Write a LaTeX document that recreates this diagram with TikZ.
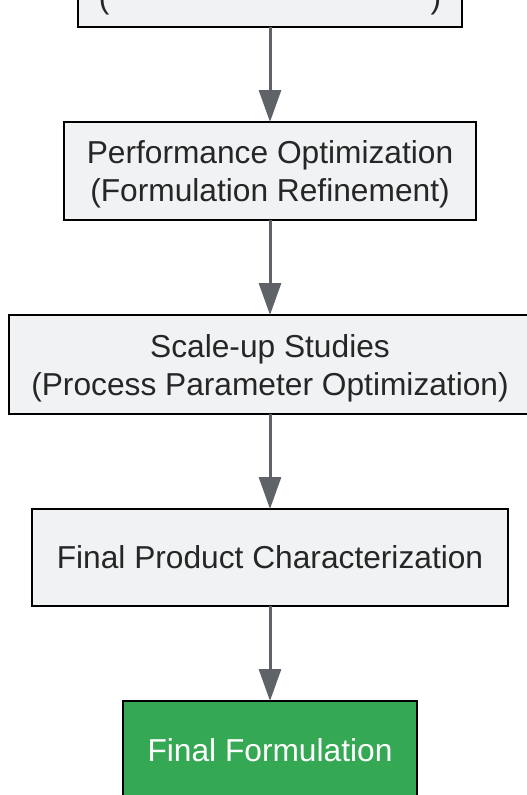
\documentclass[tikz,border=0pt]{standalone}
\usepackage{fontspec}
\setmainfont{Liberation Sans}
\usetikzlibrary{arrows.meta}
\definecolor{boxfill}{HTML}{F1F2F4}
\definecolor{txt}{HTML}{262626}
\definecolor{arrowgray}{HTML}{5F6368}
\definecolor{finalgreen}{HTML}{34A853}
\begin{document}
\begin{tikzpicture}[x=1pt,y=-1pt,
  boxtext/.style={text=txt, align=center, inner sep=0pt, outer sep=0pt,
    font=\fontsize{31.7}{38}\selectfont},
  stepbox/.style={boxtext, draw=black, line width=2.5pt, fill=boxfill},
  twoline/.style={boxtext, yshift=-3.5pt},
  finalbox/.style={stepbox, fill=finalgreen, text=white},
  flow/.style={draw=arrowgray, line width=3pt,
    -{Triangle[width=22pt,length=32pt]}, shorten >=0pt}
]
\useasboundingbox (0,0) rectangle (527,795);
\clip (0,0) rectangle (527,795);
\node[stepbox, minimum width=384pt, minimum height=98pt,
  label={[twoline, name=b1t]center:{\phantom{X}\\(\hspace{321pt})}}] (b1) at (270,-22) {};
\node[stepbox, minimum width=412pt, minimum height=98pt,
  label={[twoline, name=b2t]center:{Performance Optimization\\(Formulation Refinement)}}] (b2) at (270,171) {};
\node[stepbox, minimum width=522pt, minimum height=99pt,
  label={[twoline, name=b3t]center:{Scale-up Studies\\(Process Parameter Optimization)}}] (b3) at (270,364.5) {};
\node[stepbox, minimum width=476pt, minimum height=97pt] (b4) at (270,557.5)
  {Final Product Characterization};
\node[finalbox, minimum width=294pt, minimum height=98pt] (b5) at (270,750)
  {Final Formulation};
\draw[flow] (b1) -- (b2);
\draw[flow] (b2) -- (b3);
\draw[flow] (b3) -- (b4);
\draw[flow] (b4) -- (b5);
\end{tikzpicture}
\end{document}
